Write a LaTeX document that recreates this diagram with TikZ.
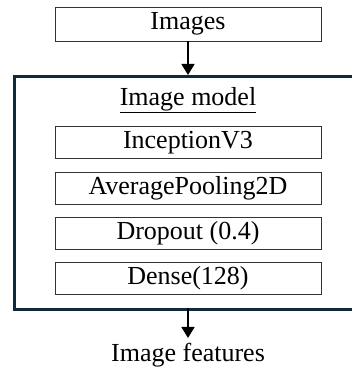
\documentclass[tikz,border=0pt]{standalone}
\usepackage{fontspec}
\setmainfont{Liberation Serif}
\usetikzlibrary{arrows.meta}
\definecolor{navy}{HTML}{0F2A3A}
\begin{document}
\begin{tikzpicture}[x=1pt,y=1pt,
  layer/.style={draw=black!80,line width=0.9pt,minimum width=266pt,minimum height=32pt,inner sep=0pt,font=\fontsize{26}{30}\selectfont},
  lbl/.style={inner sep=0pt,font=\fontsize{26}{30}\selectfont},
  arr/.style={line width=1.4pt,-{Triangle[length=11pt,width=13pt]}}]
\useasboundingbox (0,0) rectangle (352,372);
\clip (0,0) rectangle (352,372);
\node[layer,minimum height=34pt] (img) at (188,348) {Images};
\node[draw=navy,line width=3pt,minimum width=360pt,minimum height=233pt,inner sep=0pt,anchor=north west] (model) at (13,297) {};
\node[lbl] (title) at (188,272) {\underline{Image model}};
\node[layer] (inc) at (188,229.5) {InceptionV3};
\node[layer] (avg) at (188,184) {AveragePooling2D};
\node[layer] (drop) at (188,139) {Dropout (0.4)};
\node[layer] (dense) at (188,93.5) {Dense(128)};
\node[lbl] (feat) at (188,17) {Image features};
\coordinate (mtop) at (188,297);
\coordinate (mbot) at (188,64);
\coordinate (fend) at (188,34);
\draw[arr] (img.south) -- (mtop);
\draw[arr] (mbot) -- (fend);
\end{tikzpicture}
\end{document}
